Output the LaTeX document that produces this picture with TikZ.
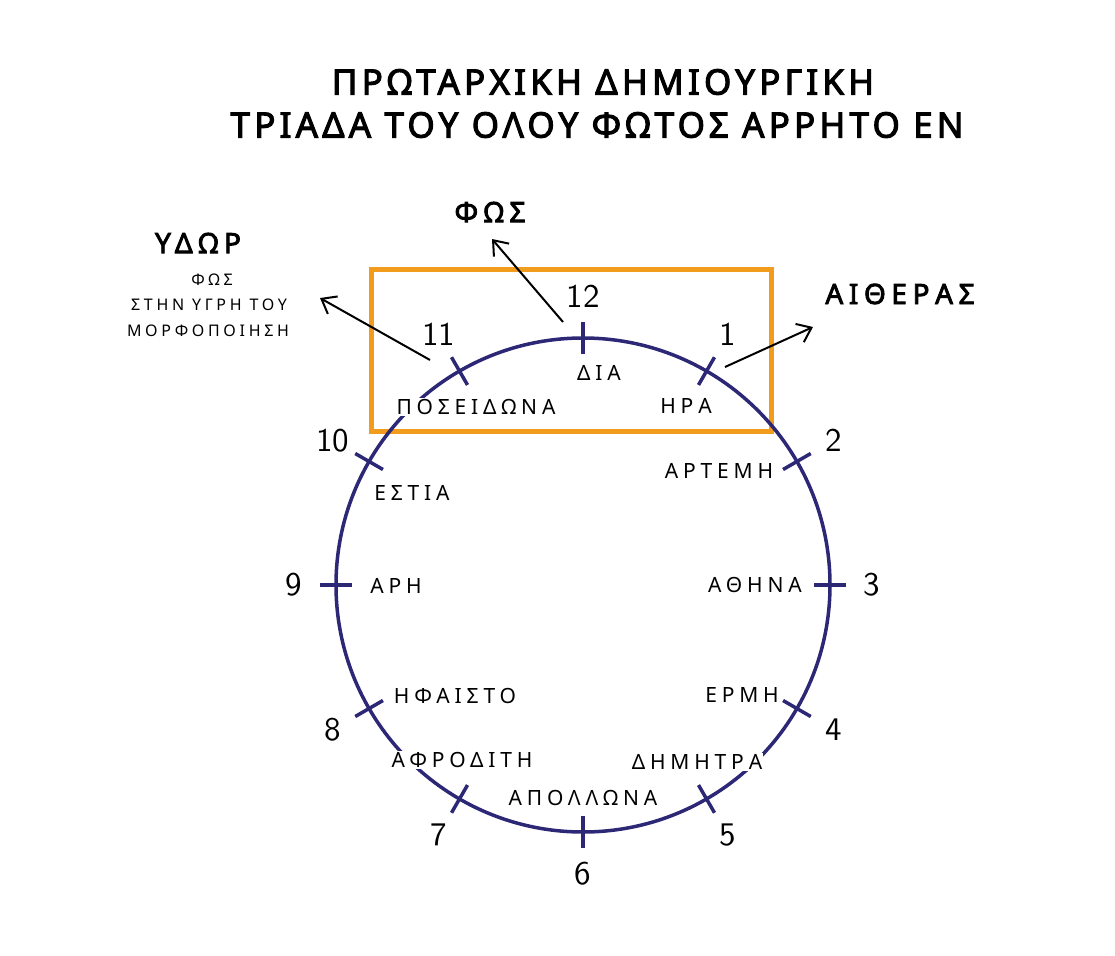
\documentclass[tikz,border=0pt]{standalone}
\usepackage{fontspec}
\usetikzlibrary{arrows.meta,calc}
\newfontfamily\namef{Noto Sans}[LetterSpace=23]
\newfontfamily\titlef{Noto Sans}[LetterSpace=12,FakeBold=3]
\newfontfamily\labf{Noto Sans}[LetterSpace=20,FakeBold=3]
\newfontfamily\numf{lmsans10-regular}[Extension=.otf]
\definecolor{ring}{RGB}{44,40,118}
\definecolor{framec}{RGB}{242,156,30}
\begin{document}
\begin{tikzpicture}[x=1pt,y=-1pt,
  godn/.style={font=\namef\fontsize{21}{24}\selectfont, inner sep=1pt},
  godw/.style={godn, fill=white},
  num/.style={font=\numf\fontsize{33}{36}\selectfont, inner sep=0pt},
  tickl/.style={draw=ring, line width=3.5pt},
  titl/.style={font=\titlef\fontsize{35}{38}\selectfont, inner sep=0pt},
  bigl/.style={font=\labf\fontsize{28}{30}\selectfont, inner sep=0pt},
  smal/.style={font=\namef\fontsize{16}{18}\selectfont, inner sep=0pt},
  arr/.style={-{Straight Barb[length=13pt,width=20pt,line width=2pt]}, line width=2pt, black},
]
\useasboundingbox (0,0) rectangle (1115,955);
% title
\node[titl] (t1) at (603,82) {ΠΡΩΤΑΡΧΙΚΗ ΔΗΜΙΟΥΡΓΙΚΗ};
\node[titl] (t2) at (597,125) {ΤΡΙΑΔΑ ΤΟΥ ΟΛΟΥ ΦΩΤΟΣ ΑΡΡΗΤΟ ΕΝ};
% frame
\draw[framec, line width=5pt] (371,269) rectangle (771,431);
% circle
\coordinate (O) at (583,585);
\draw[ring, line width=3.5pt] (O) circle[radius=247];
\foreach \k in {1,...,12}{
  \draw[tickl, shift={(O)}] (-90+30*\k:231) -- (-90+30*\k:263);
  \node[num] (n\k) at ($(O)+(-90+30*\k:289)$) {\k};
}
% gods
\node[godn] (dia) at (599,373) {ΔΙΑ};
\node[godn] (hra) at (686,406) {ΗΡΑ};
\node[godn] (art) at (719,471) {ΑΡΤΕΜΗ};
\node[godn] (ath) at (755,585) {ΑΘΗΝΑ};
\node[godn] (erm) at (742,695) {ΕΡΜΗ};
\node[godw] (dim) at (697,762) {ΔΗΜΗΤΡΑ};
\node[godn] (apo) at (583,798) {ΑΠΟΛΛΩΝΑ};
\node[godw] (afr) at (462,760) {ΑΦΡΟΔΙΤΗ};
\node[godn] (hfa) at (455,696) {ΗΦΑΙΣΤΟ};
\node[godn] (ari) at (396,586) {ΑΡΗ};
\node[godn] (est) at (412,493) {ΕΣΤΙΑ};
\node[godw] (pos) at (476,407) {ΠΟΣΕΙΔΩΝΑ};
% labels
\node[bigl] (fos) at (490,212) {ΦΩΣ};
\node[bigl] (aith) at (900,294) {ΑΙΘΕΡΑΣ};
\node[bigl] (ydor) at (198,243) {ΥΔΩΡ};
\node[smal] (s1) at (212,280) {ΦΩΣ};
\node[smal] (s2) at (209,305) {ΣΤΗΝ ΥΓΡΗ ΤΟΥ};
\node[smal] (s3) at (208,331) {ΜΟΡΦΟΠΟΙΗΣΗ};
% arrows
\coordinate (a1s) at (430,360); \coordinate (a1e) at (320,298);
\coordinate (a2s) at (563,322); \coordinate (a2e) at (492,239);
\coordinate (a3s) at (725,367); \coordinate (a3e) at (813,327);
\draw[arr] (a1s) -- (a1e);
\draw[arr] (a2s) -- (a2e);
\draw[arr] (a3s) -- (a3e);
\end{tikzpicture}
\end{document}
